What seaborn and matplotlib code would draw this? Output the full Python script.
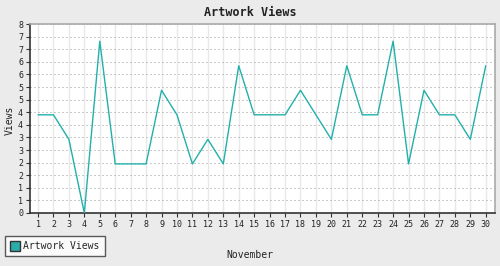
import matplotlib
matplotlib.use("Agg")
import matplotlib.pyplot as plt
import seaborn as sns
import pandas as pd
import numpy as np
from matplotlib.patches import Patch

days = list(range(1, 31))
views = [4, 4, 3, 0, 7, 2, 2, 2, 5, 4, 2, 3, 2, 6, 4, 4, 4, 5, 4, 3,
         6, 4, 4, 7, 2, 5, 4, 4, 3, 6]
series_name = "Artwork Views"
title = "Artwork Views"
x_label = "November"
y_label = "Views"
y_max = 7.7

sns.set_style("white")
plt.rcParams['font.family'] = ['DejaVu Sans Mono', 'DejaVu Sans']

df = pd.DataFrame({"day": days, "views": views})

fig = plt.figure(figsize=(5.0, 2.66), dpi=100, facecolor="#ebebeb")
ax = fig.add_axes([30/500, 1-213/266, 465/500, 189/266])
ax.set_facecolor("white")

line_color = "#22b0aa"
sns.lineplot(data=df, x="day", y="views", ax=ax, color=line_color, lw=1.0, zorder=5)

ax.set_xlim(0.48, 30.6)
ax.set_ylim(0, y_max)

yt = np.linspace(0, y_max, 16)
ax.set_yticks(yt)
ax.set_yticklabels([str(int(round(v))) for v in yt])
ax.set_xticks(days)
ax.set_xticklabels([str(d) for d in days])

ax.tick_params(axis="both", which="major", length=3, width=0.8, color="#333333",
               labelsize=6, labelcolor="#222222", pad=2, direction="out",
               bottom=True, left=True)

ax.xaxis.grid(True, color="#e8e8e8", lw=1.0, ls="-", zorder=0)
ax.yaxis.grid(True, color="#999999", lw=0.72, ls=(0, (1, 3)), zorder=1)
ax.set_axisbelow(True)

for s in ["left", "bottom"]:
    ax.spines[s].set_color("#333333")
    ax.spines[s].set_linewidth(1.2)
for s in ["top", "right"]:
    ax.spines[s].set_color("#aaaaaa")
    ax.spines[s].set_linewidth(1.2)

ax.set_xlabel("")
ax.set_ylabel("")
fig.text(0.5, 1-12/266, title, ha="center", va="center", fontsize=8.5,
         fontweight="bold", color="#222222")
fig.text(250/500, 1-255/266, x_label, ha="center", va="center", fontsize=7,
         color="#222222")
fig.text(10/500, 1-120/266, y_label, ha="center", va="center", fontsize=7,
         rotation=90, color="#222222")

handle = Patch(facecolor="#2aacaa", edgecolor="#333333", lw=1.0, label=series_name)
leg = fig.legend(handles=[handle], loc="lower left",
                 bbox_to_anchor=(5/500, 1-256/266), fontsize=7,
                 frameon=True, fancybox=False, borderpad=0.5,
                 handlelength=1.0, handleheight=1.2, handletextpad=0.4,
                 borderaxespad=0)
leg.get_frame().set_edgecolor("#333333")
leg.get_frame().set_linewidth(1.0)
leg.get_frame().set_facecolor("white")

fig.savefig("out.png", dpi=100, facecolor=fig.get_facecolor())
